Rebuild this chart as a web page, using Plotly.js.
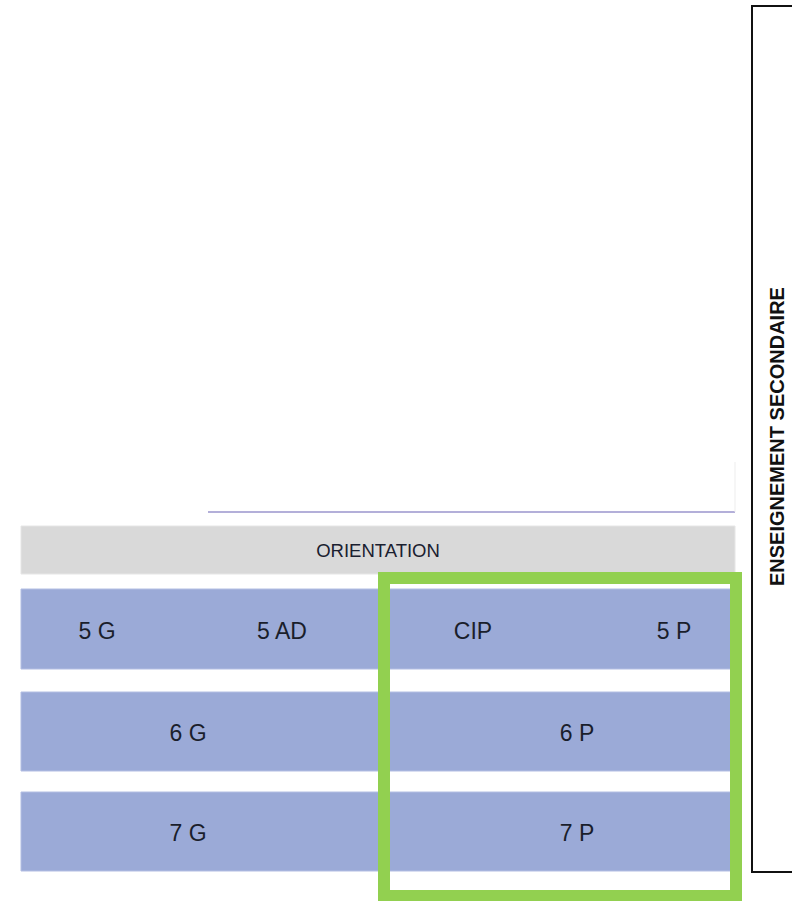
<!DOCTYPE html>
<html>
<head>
<meta charset="utf-8">
<script src="https://cdn.plot.ly/plotly-3.0.1.min.js"></script>
<style>html,body{margin:0;padding:0;background:#fff;}#chart{width:792px;height:901px;}</style>
</head>
<body>
<div id="chart"></div>
<script>
// ---- data (diagram content) ----
const bandNames   = ['ORIENTATION', '5e', '6e', '7e'];
const bandTop     = [526, 589, 692, 792];
const bandBottom  = [574, 669, 771, 871];
const bandStart   = [21, 21, 21, 21];
const bandEnd     = [735, 735, 735, 735];

const cellLabels  = ['5 G', '5 AD', 'CIP', '5 P', '6 G', '6 P', '7 G', '7 P'];
const cellBand    = [1, 1, 1, 1, 2, 2, 3, 3];
const cellX       = [97, 282, 473, 674, 188, 577, 188, 577];

const sideTitle   = 'ENSEIGNEMENT SECONDAIRE';
const pathwayBox  = {x0: 384, x1: 736, y0: 578, y1: 896};

// ---- build ----
const bandColors = ['#D9D9D9', '#9BAAD7', '#9BAAD7', '#9BAAD7'];
const bars = {
  type: 'bar', orientation: 'h',
  y: bandTop.map((t, i) => (t + bandBottom[i]) / 2),
  width: bandTop.map((t, i) => bandBottom[i] - t),
  base: bandStart,
  x: bandEnd.map((e, i) => e - bandStart[i]),
  marker: {color: bandColors, line: {color: ['#E6E6E6', '#B3BEE3', '#B3BEE3', '#B3BEE3'], width: 1}},
  hoverinfo: 'skip', showlegend: false
};

const orient = {
  type: 'scatter', mode: 'text',
  x: [(bandStart[0] + bandEnd[0]) / 2],
  y: [(bandTop[0] + bandBottom[0]) / 2 + 2],
  text: [bandNames[0]],
  textposition: 'middle center',
  textfont: {family: 'Liberation Sans, Arial, sans-serif', size: 18.5, color: '#1a2030'},
  hoverinfo: 'skip', showlegend: false
};

const cells = {
  type: 'scatter', mode: 'text',
  x: cellX,
  y: cellBand.map(b => (bandTop[b] + bandBottom[b]) / 2 + 4),
  text: cellLabels,
  textposition: 'middle center',
  textfont: {family: 'Liberation Sans, Arial, sans-serif', size: 23, color: '#1a1e2b'},
  hoverinfo: 'skip', showlegend: false
};

const layout = {
  width: 792, height: 901,
  margin: {l: 0, r: 0, t: 0, b: 0},
  paper_bgcolor: '#ffffff', plot_bgcolor: '#ffffff',
  xaxis: {range: [0, 792], visible: false, fixedrange: true},
  yaxis: {range: [901, 0], visible: false, fixedrange: true},
  bargap: 0,
  showlegend: false,
  hovermode: false,
  shapes: [
    {type: 'line', xref: 'x', yref: 'y', x0: 208, x1: 735, y0: 512, y1: 512,
     line: {color: '#B3AFD9', width: 2}},
    {type: 'line', xref: 'x', yref: 'y', x0: 735, x1: 735, y0: 462, y1: 512,
     line: {color: '#EDEDED', width: 1}},
    {type: 'rect', xref: 'x', yref: 'y', x0: 752, x1: 800, y0: 6, y1: 872,
     line: {color: '#111111', width: 2}},
    {type: 'rect', xref: 'x', yref: 'y',
     x0: pathwayBox.x0, x1: pathwayBox.x1, y0: pathwayBox.y0, y1: pathwayBox.y1,
     line: {color: '#92D050', width: 12}, fillcolor: 'rgba(0,0,0,0)', layer: 'above'}
  ],
  annotations: [
    {xref: 'x', yref: 'y', x: 777, y: 437, text: '<b>' + sideTitle + '</b>', showarrow: false,
     textangle: -90, font: {family: 'Liberation Sans, Arial, sans-serif', size: 20, color: '#111111'}}
  ]
};

Plotly.newPlot('chart', [bars, orient, cells], layout, {staticPlot: true, displayModeBar: false});
</script>
</body>
</html>
